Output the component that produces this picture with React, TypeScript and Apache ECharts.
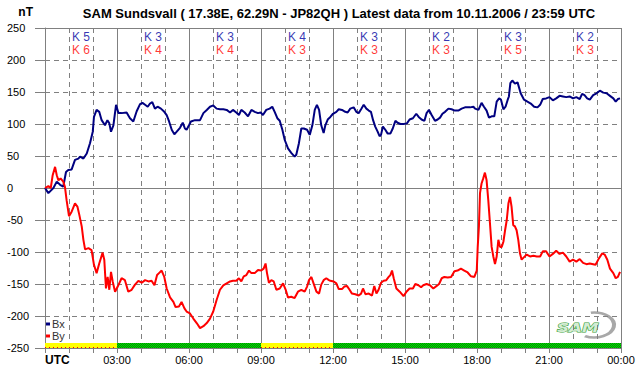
import React, { useEffect, useRef } from "react";
import * as echarts from "echarts";

const FONT = '"Liberation Sans", Arial, sans-serif';

const titleText = "SAM Sundsvall ( 17.38E, 62.29N - JP82QH ) Latest data from 10.11.2006 / 23:59 UTC";

// K indices per 3-hour block (centre of block in hours)
const kCenters = [1.5, 4.5, 7.5, 10.5, 13.5, 16.5, 19.5, 22.5];
const kBx = ["K 5", "K 3", "K 3", "K 4", "K 3", "K 2", "K 3", "K 2"];
const kBy = ["K 6", "K 4", "K 4", "K 3", "K 3", "K 3", "K 5", "K 3"];
const kRowBx = 236;
const kRowBy = 216;

// activity band along bottom: [startHour, endHour, kind]
const bandSegments: [number, number, string][] = [
  [0, 3, "yellow"],
  [3, 9, "green"],
  [9, 12, "yellow"],
  [12, 24, "green"],
];
const bandBottom = -250;
const bandTop = -242;

// [hour UTC, nT]
const bxReadings = [
  [0,0],[0.14,-8],[0.35,0],[0.49,10],[0.63,5],[0.76,2],[0.875,25],[0.97,28],[1.11,29],[1.25,44],[1.39,46],[1.46,49],[1.6,46],[1.74,54],[1.875,70],[1.99,88],[2.04,111],[2.15,122],[2.26,119],[2.36,106],[2.5,98],[2.6,106],[2.68,101],[2.75,88],[2.85,98],[2.96,130],[3.06,117],[3.19,117],[3.4,118],[3.54,109],[3.68,104],[3.82,120],[3.96,131],[4.06,133],[4.17,130],[4.28,127],[4.375,132],[4.47,134],[4.58,124],[4.69,127],[4.83,124],[4.97,119],[5.07,114],[5.17,104],[5.28,91],[5.39,84],[5.49,88],[5.625,94],[5.74,102],[5.83,93],[5.9,91],[6.0,98],[6.08,104],[6.25,106],[6.46,106],[6.6,117],[6.74,122],[6.875,127],[7.01,129],[7.15,124],[7.29,123],[7.43,123],[7.57,122],[7.71,118],[7.83,122],[7.97,118],[8.08,114],[8.18,122],[8.32,118],[8.46,112],[8.6,122],[8.74,119],[8.875,117],[8.99,118],[9.08,114],[9.22,122],[9.36,124],[9.47,127],[9.57,119],[9.68,109],[9.78,105],[9.89,91],[9.99,75],[10.125,62],[10.26,55],[10.4,49],[10.47,52],[10.58,70],[10.68,93],[10.78,93],[10.92,91],[11.03,83],[11.14,98],[11.24,122],[11.33,130],[11.42,122],[11.51,98],[11.61,86],[11.68,98],[11.78,107],[11.89,111],[12.0,116],[12.14,119],[12.24,123],[12.375,122],[12.51,119],[12.61,118],[12.72,124],[12.86,126],[12.97,119],[13.07,117],[13.17,123],[13.28,130],[13.39,124],[13.49,121],[13.58,119],[13.67,106],[13.76,96],[13.86,88],[13.94,81],[14.0,83],[14.08,96],[14.18,91],[14.28,85],[14.39,85],[14.49,93],[14.6,105],[14.69,102],[14.81,100],[14.94,100],[15.08,101],[15.19,107],[15.33,109],[15.47,116],[15.57,111],[15.69,107],[15.81,105],[15.9,117],[16.0,122],[16.11,114],[16.25,105],[16.36,107],[16.46,110],[16.56,116],[16.67,119],[16.81,124],[16.94,123],[17.08,121],[17.22,121],[17.36,124],[17.5,126],[17.71,126],[17.85,127],[17.92,124],[18.06,122],[18.19,133],[18.29,127],[18.4,121],[18.5,110],[18.61,112],[18.72,112],[18.82,135],[18.92,140],[19.0,138],[19.1,123],[19.19,127],[19.28,138],[19.33,143],[19.39,164],[19.47,168],[19.58,163],[19.69,165],[19.82,148],[19.96,138],[20.1,135],[20.24,132],[20.38,127],[20.52,126],[20.63,130],[20.74,139],[20.88,140],[21.02,142],[21.16,137],[21.3,140],[21.44,144],[21.58,143],[21.72,142],[21.86,143],[22.0,140],[22.14,142],[22.28,139],[22.38,147],[22.48,145],[22.59,140],[22.7,138],[22.84,145],[22.98,148],[23.12,152],[23.26,149],[23.4,148],[23.54,144],[23.68,140],[23.78,135],[23.87,139],[23.96,140],
];

const byReadings = [
  [0,0],[0.14,3],[0.24,0],[0.32,20],[0.42,33],[0.49,20],[0.56,12],[0.65,15],[0.76,10],[0.83,2],[0.9,-19],[1.0,-44],[1.11,-37],[1.25,-24],[1.35,-29],[1.43,-42],[1.53,-60],[1.6,-81],[1.67,-96],[1.81,-94],[1.94,-97],[2.04,-120],[2.15,-133],[2.26,-118],[2.4,-101],[2.47,-112],[2.54,-157],[2.61,-139],[2.68,-159],[2.75,-131],[2.82,-146],[2.92,-162],[3.03,-154],[3.19,-141],[3.33,-144],[3.47,-162],[3.61,-159],[3.75,-151],[3.89,-145],[4.03,-148],[4.17,-144],[4.31,-146],[4.44,-145],[4.56,-152],[4.67,-136],[4.75,-133],[4.86,-129],[4.97,-139],[5.07,-157],[5.21,-171],[5.35,-178],[5.44,-186],[5.58,-185],[5.69,-178],[5.81,-188],[5.9,-193],[6.04,-196],[6.18,-204],[6.32,-211],[6.46,-219],[6.6,-216],[6.74,-211],[6.875,-204],[7.01,-193],[7.15,-175],[7.29,-159],[7.43,-152],[7.57,-149],[7.71,-146],[7.83,-145],[7.97,-145],[8.08,-141],[8.18,-146],[8.28,-138],[8.39,-136],[8.5,-129],[8.6,-133],[8.74,-133],[8.875,-128],[9.01,-129],[9.11,-126],[9.19,-118],[9.25,-133],[9.33,-148],[9.43,-144],[9.53,-146],[9.64,-159],[9.78,-157],[9.92,-149],[10.03,-159],[10.125,-171],[10.26,-170],[10.4,-172],[10.54,-162],[10.68,-159],[10.82,-162],[10.92,-154],[11.0,-144],[11.1,-139],[11.19,-149],[11.31,-162],[11.42,-165],[11.51,-151],[11.61,-144],[11.72,-141],[11.83,-144],[11.89,-145],[12.03,-146],[12.14,-149],[12.24,-158],[12.375,-158],[12.47,-154],[12.58,-153],[12.69,-159],[12.79,-165],[12.93,-166],[13.07,-168],[13.17,-165],[13.25,-157],[13.35,-166],[13.49,-165],[13.625,-168],[13.72,-153],[13.81,-165],[13.9,-159],[14.0,-148],[14.11,-145],[14.22,-144],[14.32,-139],[14.39,-136],[14.46,-129],[14.53,-141],[14.64,-157],[14.78,-162],[14.94,-169],[15.06,-162],[15.19,-157],[15.33,-157],[15.43,-150],[15.56,-152],[15.67,-155],[15.76,-152],[15.9,-150],[16.04,-152],[16.18,-157],[16.32,-153],[16.42,-150],[16.53,-141],[16.64,-139],[16.78,-140],[16.92,-139],[17.06,-130],[17.19,-129],[17.33,-126],[17.47,-129],[17.61,-132],[17.75,-138],[17.89,-139],[17.99,-129],[18.03,-92],[18.08,-60],[18.125,-8],[18.19,7],[18.26,15],[18.33,24],[18.4,12],[18.47,-19],[18.54,-55],[18.61,-92],[18.68,-107],[18.75,-119],[18.82,-107],[18.89,-81],[18.96,-92],[19.03,-92],[19.1,-84],[19.17,-66],[19.24,-50],[19.31,-24],[19.375,-14],[19.44,-29],[19.51,-58],[19.58,-60],[19.65,-66],[19.72,-81],[19.79,-102],[19.86,-112],[19.96,-108],[20.07,-104],[20.21,-107],[20.35,-106],[20.49,-107],[20.63,-107],[20.74,-99],[20.88,-99],[21.02,-107],[21.16,-103],[21.3,-98],[21.44,-103],[21.58,-101],[21.72,-107],[21.86,-115],[22.0,-112],[22.14,-115],[22.28,-111],[22.42,-117],[22.56,-119],[22.7,-118],[22.84,-119],[22.94,-120],[23.08,-110],[23.22,-102],[23.32,-104],[23.43,-112],[23.54,-126],[23.68,-133],[23.78,-141],[23.87,-139],[23.96,-131],
];

const BX_COLOR = "#000080";
const BY_COLOR = "#ff0000";
const GRID_COLOR = "#808080";

function makePattern(w: number, h: number, draw: (ctx: CanvasRenderingContext2D) => void) {
  const c = document.createElement("canvas");
  c.width = w;
  c.height = h;
  const ctx = c.getContext("2d");
  if (ctx) draw(ctx);
  return { image: c, repeat: "repeat" } as any;
}

export default function App() {
  const ref = useRef<HTMLDivElement>(null);

  useEffect(() => {
    if (!ref.current) return;
    const chart = echarts.init(ref.current, undefined, { renderer: "svg" });

    let yellowFill: any = "#ffff00";
    let greenFill: any = "#22cc22";
    try {
      yellowFill = makePattern(4, 5, (ctx) => {
        ctx.fillStyle = "#ffff00";
        ctx.fillRect(0, 0, 4, 5);
        ctx.fillStyle = "#ff0000";
        ctx.fillRect(1, 2, 1, 1);
      });
      greenFill = makePattern(2, 2, (ctx) => {
        ctx.fillStyle = "#00e000";
        ctx.fillRect(0, 0, 2, 2);
        ctx.fillStyle = "#008800";
        ctx.fillRect(1, 0, 1, 1);
        ctx.fillRect(0, 1, 1, 1);
      });
    } catch (e) {
      /* fall back to plain colours */
    }

    const fmtHour = (v: number) => {
      if (v % 3 !== 0) return "";
      if (v === 0) return "{b|UTC}";
      const h = v % 24;
      return (h < 10 ? "0" : "") + h + ":00";
    };

    const option: any = {
      animation: false,
      backgroundColor: "#ffffff",
      textStyle: { fontFamily: FONT },
      grid: { left: 45, right: 21, top: 28, bottom: 28, containLabel: false },
      legend: {
        data: ["Bx", "By"],
        orient: "vertical",
        left: 46,
        top: 318,
        padding: 0,
        itemGap: 0,
        itemWidth: 4,
        itemHeight: 3,
        icon: "rect",
        selectedMode: false,
        textStyle: { fontSize: 11, color: "#333333", lineHeight: 12, padding: [0, 0, 0, -3], fontFamily: FONT },
      },
      xAxis: [
        {
          type: "value",
          min: 0,
          max: 24,
          interval: 1,
          position: "bottom",
          axisLine: { show: true, onZero: false, lineStyle: { color: GRID_COLOR, width: 1 } },
          axisTick: { show: true, length: 5, lineStyle: { color: GRID_COLOR } },
          axisLabel: {
            formatter: fmtHour,
            fontSize: 11,
            color: "#000000",
            margin: 6,
            fontFamily: FONT,
            alignMinLabel: "left",
            rich: { b: { fontWeight: "bold", fontSize: 12, color: "#000000", fontFamily: FONT } },
          },
          splitLine: { show: true, lineStyle: { color: GRID_COLOR, type: [5, 4], width: 1 } },
        },
        {
          type: "value",
          min: 0,
          max: 24,
          interval: 3,
          position: "top",
          axisLine: { show: true, onZero: false, lineStyle: { color: GRID_COLOR, width: 1 } },
          axisTick: { show: false },
          axisLabel: { show: false },
          splitLine: { show: true, lineStyle: { color: GRID_COLOR, type: "solid", width: 1 } },
        },
      ],
      yAxis: {
        type: "value",
        min: -250,
        max: 250,
        interval: 50,
        name: "nT",
        nameLocation: "end",
        nameGap: 10,
        nameTextStyle: { fontWeight: "bold", fontSize: 12, color: "#000000", align: "right", padding: [0, 12, 0, 0], fontFamily: FONT },
        axisLine: { show: true, onZero: false, lineStyle: { color: GRID_COLOR } },
        axisTick: { show: true, length: 10, lineStyle: { color: GRID_COLOR } },
        axisLabel: { align: "left", margin: 38, fontSize: 11, color: "#000000", fontFamily: FONT },
        splitLine: { show: true, lineStyle: { color: GRID_COLOR, type: [5, 4], width: 1 } },
      },
      series: [
        {
          name: "Bx",
          type: "line",
          xAxisIndex: 0,
          data: bxReadings,
          showSymbol: false,
          symbol: "none",
          color: BX_COLOR,
          lineStyle: { color: BX_COLOR, width: 2 },
          z: 3,
          markArea: {
            silent: true,
            data: bandSegments.map(([s, e, kind]) => [
              { xAxis: s, yAxis: bandBottom, itemStyle: { color: kind === "yellow" ? yellowFill : greenFill, opacity: 1 } },
              { xAxis: e, yAxis: bandTop },
            ]),
          },
        },
        {
          name: "By",
          type: "line",
          xAxisIndex: 0,
          data: byReadings,
          showSymbol: false,
          symbol: "none",
          color: BY_COLOR,
          lineStyle: { color: BY_COLOR, width: 2 },
          z: 4,
          markLine: {
            silent: true,
            symbol: "none",
            label: { show: false },
            lineStyle: { color: GRID_COLOR, type: "solid", width: 1 },
            data: [{ yAxis: 0 }],
            z: 1,
          },
        },
        {
          name: "KBx",
          type: "scatter",
          xAxisIndex: 0,
          symbolSize: 0,
          silent: true,
          data: kCenters.map((h) => [h, kRowBx]),
          label: {
            show: true,
            position: "inside",
            formatter: (p: any) => kBx[p.dataIndex],
            color: "#0000a0",
            fontSize: 12,
            fontFamily: FONT,
          },
        },
        {
          name: "KBy",
          type: "scatter",
          xAxisIndex: 0,
          symbolSize: 0,
          silent: true,
          data: kCenters.map((h) => [h, kRowBy]),
          label: {
            show: true,
            position: "inside",
            formatter: (p: any) => kBy[p.dataIndex],
            color: "#ff0000",
            fontSize: 12,
            fontFamily: FONT,
          },
        },
      ],
      graphic: [
        {
          type: "text",
          x: 339,
          y: 13,
          style: {
            text: titleText,
            fill: "#000000",
            font: 'bold 13px "Liberation Sans", Arial, sans-serif',
            align: "center",
            verticalAlign: "middle",
          },
        },
        {
          type: "group",
          x: 556,
          y: 310,
          silent: true,
          children: [
            {
              type: "arc",
              x: 38,
              y: 15,
              scaleY: 0.62,
              shape: { cx: 0, cy: 0, r: 20, startAngle: -Math.PI * 0.55, endAngle: Math.PI * 0.65 },
              style: { stroke: "#a8a8a8", lineWidth: 4, fill: "none" },
            },
            {
              type: "text",
              x: 1,
              y: 17,
              scaleX: 1.4,
              style: {
                text: "SAM",
                font: 'italic bold 12px "DejaVu Sans", sans-serif',
                fill: "#d4ecd4",
                stroke: "#3aa03a",
                lineWidth: 1,
                verticalAlign: "middle",
              },
            },
          ],
        },
      ],
    };

    chart.setOption(option);
    return () => chart.dispose();
  }, []);

  return (
    <div
      ref={ref}
      style={{ position: "fixed", left: 0, top: 0, width: 642, height: 376, background: "#ffffff" }}
    />
  );
}
